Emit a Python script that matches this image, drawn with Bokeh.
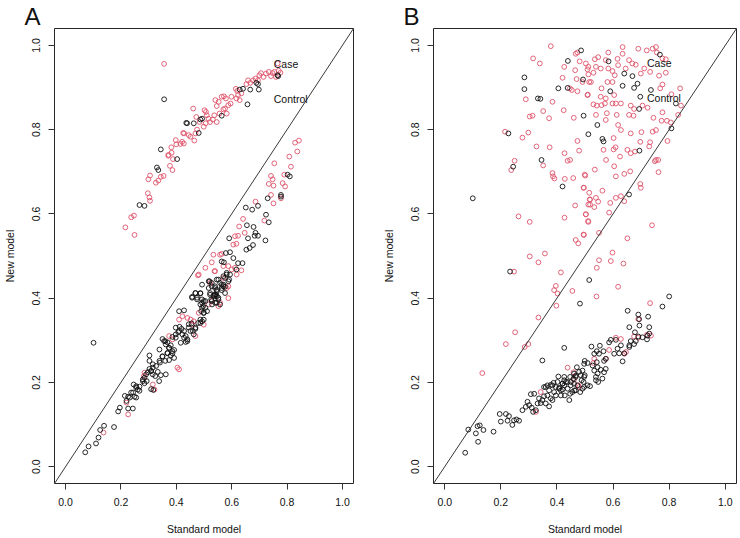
from bokeh.plotting import figure
from bokeh.layouts import row
from bokeh.models import Range1d, FixedTicker, NumeralTickFormatter, Slope
from bokeh.embed import file_html
from bokeh.resources import INLINE
from bokeh.core.properties import value

TICKS = [0.0, 0.2, 0.4, 0.6, 0.8, 1.0]
X_LABEL = "Standard model"
Y_LABEL = "New model"
PANELS = ["A", "B"]
GROUPS = ["Case", "Control"]
RED = "#DF536B"
FONT = "Liberation Sans"

# ---------------- Panel A ----------------
a_case = [
    # upper arc
    (.356,.956),(.216,.568),(.249,.550),(.237,.592),(.247,.596),(.297,.649),(.303,.639),(.305,.631),
    (.299,.682),(.305,.691),(.326,.674),(.335,.679),(.344,.688),(.354,.690),(.377,.714),(.386,.704),
    (.371,.738),(.383,.745),(.388,.730),(.382,.758),(.400,.765),(.415,.766),(.421,.771),(.427,.767),
    (.425,.792),(.445,.787),(.451,.783),(.465,.774),(.469,.791),(.475,.800),(.461,.850),(.472,.830),
    (.484,.818),(.499,.807),(.506,.815),(.502,.846),(.510,.834),(.516,.826),(.522,.818),(.532,.824),
    (.537,.834),(.546,.818),(.541,.870),(.546,.856),(.556,.838),(.570,.848),(.576,.850),(.582,.838),
    (.572,.879),(.579,.874),(.588,.858),(.596,.862),(.599,.878),(.617,.874),(.623,.882),(.629,.870),
    (.635,.886),(.615,.897),(.620,.892),(.653,.908),(.659,.917),(.667,.911),(.677,.917),(.686,.921),
    (.695,.917),(.700,.929),(.706,.934),(.715,.925),(.724,.933),(.734,.937),(.742,.927),(.748,.934),
    (.754,.937),(.564,.878),(.766,.957),(.776,.935),(.760,.925),(.770,.940),(.553,.866),(.507,.842),
    (.428,.791),(.398,.775),(.372,.740),
    # lower band
    (.829,.769),(.843,.774),(.837,.748),(.808,.736),(.754,.720),(.814,.712),(.790,.693),(.742,.690),
    (.748,.682),(.734,.671),(.751,.667),(.784,.673),(.793,.665),(.742,.645),(.778,.637),(.751,.625),
    (.686,.629),(.641,.588),(.718,.584),(.627,.570),(.647,.555),(.612,.547),(.623,.548),(.606,.527),
    (.617,.529),(.534,.503),(.558,.503),(.564,.505),(.528,.485),(.505,.472),(.478,.454),(.540,.464),
    (.588,.476),(.600,.468),(.635,.466),(.570,.448),(.522,.436),
    (.137,.081),(.226,.124),(.220,.152),(.285,.223),(.283,.215),(.321,.183),(.315,.195),(.374,.310),
    (.410,.349),(.422,.357),(.410,.231),(.404,.235),(.469,.310),(.457,.337),(.463,.345),(.440,.353),
    (.452,.349),(.499,.337),(.481,.365),(.517,.385),(.528,.393),(.552,.381),(.558,.389),(.540,.408),
    (.588,.428),(.618,.456),(.481,.456),(.538,.464),(.570,.476),(.612,.472),(.386,.302),(.582,.424),
    (.588,.400),
]
a_ctrl = [
    # upper arc
    (.356,.872),(.267,.621),(.285,.619),(.330,.710),(.335,.704),(.344,.753),(.403,.730),(.436,.816),
    (.439,.815),(.463,.815),(.481,.792),(.487,.824),(.493,.826),(.564,.833),(.629,.895),(.641,.897),
    (.657,.860),(.667,.895),(.689,.911),(.695,.908),(.698,.895),(.766,.929),(.768,.927),
    # lower band
    (.802,.693),(.810,.689),(.778,.641),(.778,.645),(.730,.637),(.651,.615),(.674,.610),(.695,.619),
    (.724,.598),(.734,.580),(.655,.573),(.679,.569),(.686,.555),(.695,.548),(.683,.548),(.722,.537),
    (.659,.542),(.677,.526),(.665,.519),(.653,.515),(.591,.542),(.579,.507),(.594,.509),(.564,.487),
    (.572,.485),(.606,.495),(.623,.483),(.639,.483),(.617,.468),(.582,.460),(.594,.456),(.576,.448),
    (.591,.444),(.546,.444),(.558,.436),(.570,.428),(.546,.420),(.564,.419),(.528,.436),(.520,.440),
    (.493,.432),(.487,.412),(.522,.408),(.534,.405),(.544,.408),(.469,.412),(.457,.401),(.475,.397),
    (.499,.393),(.528,.393),(.546,.389),
    (.101,.294),(.071,.034),(.083,.048),(.110,.055),(.119,.069),(.125,.087),(.139,.097),(.175,.094),
    (.196,.140),(.190,.131),(.226,.138),(.243,.138),(.214,.168),(.226,.166),(.255,.164),(.237,.176),
    (.249,.166),(.246,.195),(.255,.191),(.261,.183),(.267,.190),(.279,.207),(.285,.198),(.293,.203),
    (.297,.224),(.309,.227),(.315,.235),(.303,.232),(.315,.219),(.324,.215),(.333,.225),(.338,.203),
    (.344,.217),(.362,.219),(.303,.264),(.309,.184),(.317,.182),(.341,.247),(.350,.261),(.360,.251),
    (.368,.269),(.380,.264),(.386,.269),(.374,.253),(.392,.258),(.350,.303),(.360,.298),(.368,.295),
    (.380,.288),(.374,.282),(.392,.277),(.386,.308),(.398,.314),(.407,.319),(.412,.332),(.419,.327),
    (.428,.322),(.434,.310),(.440,.302),(.434,.296),(.410,.369),(.428,.371),(.445,.330),(.455,.340),
    (.460,.322),(.469,.327),(.479,.341),(.487,.349),(.457,.403),(.469,.412),(.475,.401),(.487,.411),
    (.493,.389),(.505,.393),(.493,.377),(.499,.365),(.511,.369),(.517,.440),(.528,.428),(.540,.424),
    (.546,.404),(.552,.397),(.538,.406),(.526,.397),(.552,.444),(.564,.432),(.576,.427),(.582,.456),
    (.588,.440),(.570,.452),
    (.493,.397),(.487,.385),(.497,.381),(.505,.377),(.490,.369),(.499,.365),(.493,.345),(.487,.341),
    (.499,.349),(.517,.424),(.522,.412),(.540,.409),(.540,.428),(.546,.416),(.552,.401),(.564,.424),
    (.570,.432),(.576,.412),(.529,.385),(.540,.389),(.558,.385),(.445,.338),(.451,.322),(.463,.314),
    (.469,.330),(.398,.330),(.410,.322),(.422,.314),(.428,.306),(.440,.298),(.416,.294),(.398,.306),
    (.362,.290),(.374,.282),(.386,.274),(.368,.270),(.350,.262),(.339,.278),(.356,.298),(.303,.251),
    (.315,.243),(.327,.239),(.339,.251),(.309,.227),(.291,.219),(.285,.211),(.279,.203),(.255,.188),
    (.267,.180),(.244,.176),(.232,.164),(.220,.156),
]

# ---------------- Panel B ----------------
b_case = [
    (.378,.998),(.315,.969),(.339,.957),(.289,.872),(.303,.831),(.313,.833),(.351,.844),(.384,.866),
    (.372,.827),(.215,.795),(.298,.793),(.277,.781),(.327,.760),(.374,.758),(.427,.744),(.438,.726),
    (.447,.728),(.479,.750),(.473,.773),(.249,.726),(.237,.704),(.351,.715),(.384,.697),(.386,.689),
    (.391,.684),(.428,.683),(.458,.685),(.501,.691),(.496,.662),(.515,.650),(.517,.634),(.465,.620),
    (.512,.622),(.503,.599),(.512,.581),(.427,.591),(.263,.594),(.303,.581),(.467,.538),(.476,.530),
    (.496,.550),(.303,.499),(.334,.485),(.357,.506),(.426,.949),(.467,.980),(.473,.983),(.481,.962),
    (.503,.957),(.512,.949),(.509,.943),(.465,.941),(.470,.920),(.420,.923),(.453,.894),(.446,.898),
    (.473,.891),(.510,.883),(.424,.846),(.460,.828),(.515,.913),(.512,.931),
    (.634,.996),(.583,.983),(.547,.972),(.535,.967),(.690,.992),(.720,.988),(.741,.992),(.753,.996),
    (.756,.983),(.776,.969),(.788,.967),(.634,.980),(.657,.965),(.669,.957),(.681,.954),(.616,.968),
    (.574,.965),(.583,.945),(.598,.939),(.556,.945),(.539,.949),(.530,.935),(.606,.929),(.711,.945),
    (.732,.937),(.699,.933),(.764,.928),(.788,.935),(.645,.945),(.618,.953),(.580,.913),(.598,.913),
    (.521,.913),(.491,.913),(.559,.898),(.556,.878),(.574,.874),(.509,.882),(.542,.857),(.559,.858),
    (.571,.862),(.530,.860),(.598,.862),(.610,.862),(.628,.862),(.604,.882),(.663,.857),(.675,.849),
    (.657,.835),(.673,.833),(.705,.857),(.723,.852),(.744,.828),(.776,.841),(.808,.884),(.839,.898),
    (.842,.857),(.768,.898),(.776,.907),(.832,.835),(.773,.821),(.792,.821),(.806,.817),(.741,.795),
    (.753,.799),(.794,.773),(.539,.835),(.574,.823),(.618,.811),(.628,.799),(.578,.839),(.613,.835),
    (.663,.791),(.701,.794),(.602,.780),(.609,.758),(.602,.753),(.566,.752),(.651,.752),(.663,.744),
    (.678,.748),(.625,.736),(.697,.771),(.732,.770),(.729,.760),(.575,.728),(.604,.713),(.610,.689),
    (.640,.695),(.661,.701),(.753,.728),(.761,.728),(.749,.725),(.762,.699),(.535,.705),(.499,.693),
    (.495,.662),(.562,.655),(.697,.671),(.699,.662),(.518,.634),(.539,.638),(.547,.629),(.533,.616),
    (.518,.622),(.503,.599),(.511,.583),(.610,.638),(.628,.642),(.640,.630),(.590,.626),(.586,.603),
    (.550,.555),(.495,.551),(.739,.573),(.651,.542),(.598,.508),(.550,.490),(.592,.488),(.637,.482),
    # lower part
    (.247,.463),(.134,.222),(.218,.291),(.251,.319),(.285,.284),(.298,.291),(.334,.354),(.398,.382),
    (.390,.419),(.396,.429),(.402,.411),(.414,.461),(.542,.472),(.455,.417),(.541,.404),
    (.618,.427),(.732,.388),(.721,.313),(.735,.311),(.690,.306),(.690,.350),(.675,.309),(.628,.303),
    (.610,.306),(.640,.268),(.646,.272),(.586,.277),(.575,.256),(.530,.246),(.533,.256),(.438,.235),
    (.459,.224),(.461,.206),(.476,.193),(.479,.189),(.325,.130),(.342,.177),
]
b_ctrl = [
    (.486,.988),(.439,.963),(.493,.919),(.284,.924),(.284,.896),(.332,.874),(.341,.873),(.405,.898),
    (.438,.899),(.495,.833),(.512,.789),(.227,.791),(.244,.712),(.345,.728),(.420,.665),(.100,.637),
    (.584,.962),(.640,.933),(.669,.927),(.634,.904),(.687,.909),(.675,.899),(.590,.891),(.735,.894),
    (.767,.978),(.697,.878),(.693,.849),(.824,.862),(.544,.811),(.562,.778),(.566,.772),(.694,.750),
    (.808,.803),(.657,.646),
    (.233,.463),(.348,.252),(.426,.282),(.515,.443),(.482,.387),(.800,.404),(.776,.380),(.652,.370),
    (.073,.033),(.084,.088),(.117,.096),(.125,.098),(.111,.079),(.138,.087),(.119,.059),(.174,.083),
    (.196,.125),(.218,.125),(.229,.120),(.224,.109),(.200,.107),(.241,.099),(.247,.110),(.256,.112),
    (.265,.109),(.277,.134),(.289,.142),(.301,.146),(.295,.154),(.310,.140),(.315,.130),(.325,.134),
    (.331,.150),(.342,.151),(.336,.162),(.348,.158),(.354,.167),(.360,.150),(.372,.143),(.366,.169),
    (.378,.162),(.384,.158),(.360,.189),(.372,.181),(.384,.193),(.390,.177),(.396,.169),(.402,.201),
    (.408,.187),(.414,.181),(.420,.197),(.405,.214),(.426,.213),(.307,.172),(.319,.173),
    (.725,.356),(.690,.361),(.693,.350),(.694,.335),(.658,.331),(.678,.319),(.729,.331),(.729,.316),
    (.705,.307),(.690,.309),(.681,.298),(.663,.298),(.675,.291),(.658,.288),(.658,.284),(.721,.302),
    (.723,.311),(.592,.301),(.610,.301),(.586,.295),(.628,.288),(.616,.280),(.604,.268),(.622,.269),
    (.640,.269),(.634,.250),(.553,.287),(.542,.274),(.550,.268),(.566,.274),(.523,.285),(.533,.268),
    (.574,.256),(.568,.251),(.542,.248),(.527,.240),(.545,.236),(.556,.230),(.574,.232),(.568,.224),
    (.533,.228),(.545,.221),(.539,.213),(.562,.209),(.547,.201),(.539,.205),(.518,.191),(.499,.251),
    (.497,.244),(.509,.246),(.471,.236),(.479,.225),(.491,.228),(.485,.217),(.497,.213),(.488,.205),
    (.495,.201),(.499,.217),(.461,.221),(.447,.213),(.467,.213),(.450,.201),(.461,.197),(.432,.201),
    (.426,.193),(.467,.181),(.455,.177),(.438,.185),(.447,.173),(.420,.183),(.428,.169),(.414,.169),
    (.444,.158),(.491,.185),(.473,.193),
    (.354,.189),(.366,.193),(.378,.194),(.388,.199),(.396,.189),(.408,.185),(.420,.197),(.426,.205),
    (.438,.201),(.449,.193),(.459,.209),(.467,.216),(.462,.181),(.483,.177),(.497,.189),(.509,.193),
]

# text positions (data units)
a_group_x = [0.752, 0.752]
a_group_y = [0.956, 0.872]
b_group_x = [0.721, 0.721]
b_group_y = [0.957, 0.874]


def make_panel(case, ctrl, letter, letter_offset, gx, gy, borders):
    left, right, top, bottom = borders
    p = figure(width=370, height=538, x_range=Range1d(-0.04, 1.04), y_range=Range1d(-0.04, 1.04),
               output_backend="svg", toolbar_location=None,
               min_border_left=left, min_border_right=right,
               min_border_top=top, min_border_bottom=bottom)
    p.grid.visible = False
    p.outline_line_color = "#262626"
    p.outline_line_width = 1
    p.outline_line_alpha = 1

    p.title.text = letter
    p.title.align = "left"
    p.title.offset = letter_offset
    p.title.standoff = -3
    p.title.text_font = FONT
    p.title.text_font_size = "24px"
    p.title.text_font_style = "normal"
    p.title.text_color = "#111111"

    for ax in (p.xaxis[0], p.yaxis[0]):
        ax.ticker = FixedTicker(ticks=TICKS)
        ax.formatter = NumeralTickFormatter(format="0.0")
        ax.minor_tick_line_color = None
        ax.axis_line_color = None
        ax.major_tick_in = 0
        ax.major_tick_out = 6
        ax.major_tick_line_color = "#333333"
        ax.major_label_text_font = FONT
        ax.major_label_text_font_size = "10.5px"
        ax.major_label_text_color = "#111111"
        ax.axis_label_text_font = FONT
        ax.axis_label_text_font_size = "10.5px"
        ax.axis_label_text_font_style = "normal"
        ax.axis_label_text_color = "#111111"
    p.xaxis.axis_label = X_LABEL
    p.yaxis.axis_label = Y_LABEL
    p.xaxis.major_label_standoff = 8
    p.xaxis.axis_label_standoff = 14
    p.yaxis.major_label_orientation = "vertical"
    p.yaxis.major_label_standoff = 8
    p.yaxis.axis_label_standoff = 14

    p.add_layout(Slope(gradient=1, y_intercept=0, line_color="#222222", line_width=0.9))

    p.scatter([v[0] for v in case], [v[1] for v in case], marker="circle", size=4.8,
              fill_color=None, line_color=RED, line_width=0.9)
    p.scatter([v[0] for v in ctrl], [v[1] for v in ctrl], marker="circle", size=4.8,
              fill_color=None, line_color="#111111", line_width=0.9)

    p.text(x=gx, y=gy, text=GROUPS, text_font=value(FONT), text_font_size="10.5px",
           text_baseline="middle", text_align="left", text_color="#111111")
    return p


pa = make_panel(a_case, a_ctrl, PANELS[0], -30, a_group_x, a_group_y, (50, 17, 26, 55))
pb = make_panel(b_case, b_ctrl, PANELS[1], -30, b_group_x, b_group_y, (63, 4, 28, 53))

layout = row(pa, pb, styles={"position": "absolute", "left": "0px", "top": "0px"})

open("out.html", "w").write(file_html(layout, INLINE))
